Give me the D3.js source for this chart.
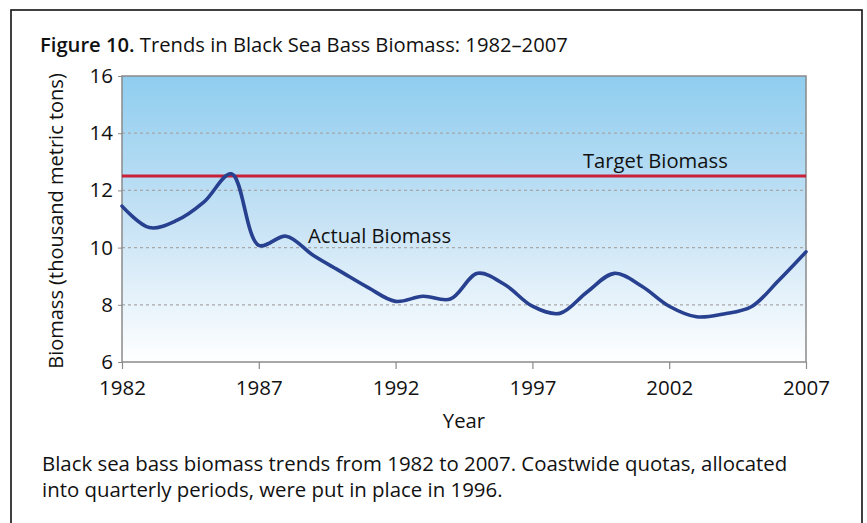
<!DOCTYPE html>
<html>
<head>
<meta charset="utf-8">
<script src="https://cdnjs.cloudflare.com/ajax/libs/d3/7.8.5/d3.min.js"></script>
<style>
  body { margin: 0; background: #fff; }
  text { font-family: "Open Sans", Lato, sans-serif; fill: #111; }
</style>
</head>
<body>
<div id="chart"></div>
<script>
// values
const years = [1982, 1983, 1984, 1985, 1986, 1987, 1988, 1989, 1990, 1991, 1992, 1993, 1994,
               1995, 1996, 1997, 1998, 1999, 2000, 2001, 2002, 2003, 2004, 2005, 2006, 2007];
const biomass = [11.45, 10.7, 10.95, 11.6, 12.58, 10.08, 10.4, 9.72, 9.16, 8.6, 8.12, 8.3, 8.2,
                 9.1, 8.7, 7.95, 7.7, 8.45, 9.1, 8.65, 7.95, 7.58, 7.68, 7.93, 8.85, 9.85];
const targetBiomass = 12.5;
const xTicks = [1982, 1987, 1992, 1997, 2002, 2007];
const yTicks = [6, 8, 10, 12, 14, 16];

const W = 867, H = 523;
const margin = {top: 76, right: 61, bottom: 161, left: 122};
const width = W - margin.left - margin.right;
const height = H - margin.top - margin.bottom;

const svg = d3.select("#chart").append("svg")
    .attr("width", W)
    .attr("height", H);

// outer frame
svg.append("rect")
    .attr("x", 11).attr("y", 10)
    .attr("width", 851).attr("height", 530)
    .attr("fill", "none")
    .attr("stroke", "#111")
    .attr("stroke-width", 1.6);

const title = svg.append("text")
    .attr("x", 40).attr("y", 52)
    .style("font-size", "20.2px");
title.append("tspan").style("font-weight", "600").text("Figure 10.");
title.append("tspan").text(" Trends in Black Sea Bass Biomass: 1982\u20132007");

const defs = svg.append("defs");
const grad = defs.append("linearGradient")
    .attr("id", "bg").attr("x1", 0).attr("y1", 0).attr("x2", 0).attr("y2", 1);
grad.append("stop").attr("offset", "0%").attr("stop-color", "#8fcdef");
grad.append("stop").attr("offset", "50%").attr("stop-color", "#c6e2f5");
grad.append("stop").attr("offset", "100%").attr("stop-color", "#ffffff");

const chart = svg.append("g")
    .attr("transform", "translate(" + margin.left + "," + margin.top + ")");

const x = d3.scaleLinear().domain([1982, 2007]).range([0, width]);
const y = d3.scaleLinear().domain([6, 16]).range([height, 0]);

chart.append("rect")
    .attr("width", width).attr("height", height)
    .attr("fill", "url(#bg)");

// dashed gridlines
chart.selectAll(".grid")
    .data(yTicks.filter(d => d > 6 && d < 16))
  .enter().append("line")
    .attr("class", "grid")
    .attr("x1", 0).attr("x2", width)
    .attr("y1", d => y(d)).attr("y2", d => y(d))
    .attr("stroke", "#a8a8a8")
    .attr("stroke-width", 1.3)
    .attr("stroke-dasharray", "3,3");

chart.append("rect")
    .attr("width", width).attr("height", height)
    .attr("fill", "none")
    .attr("stroke", "#8a8a8a")
    .attr("stroke-width", 1.5);

const xAxis = chart.append("g")
    .attr("transform", "translate(0," + height + ")")
    .call(d3.axisBottom(x).tickValues(xTicks).tickFormat(d3.format("d")).tickSize(7).tickSizeOuter(0).tickPadding(11));
xAxis.select(".domain").remove();
xAxis.selectAll("line").attr("stroke", "#8a8a8a").attr("stroke-width", 1.2);
xAxis.selectAll("text").style("font-size", "20.5px").attr("fill", "#111");

const yAxis = chart.append("g")
    .call(d3.axisLeft(y).tickValues(yTicks).tickSize(4).tickSizeOuter(0).tickPadding(5));
yAxis.select(".domain").remove();
yAxis.selectAll("line").attr("stroke", "#8a8a8a");
yAxis.selectAll("text").style("font-size", "20.5px").attr("fill", "#111");

svg.append("text")
    .attr("transform", "translate(63," + (margin.top + height / 2 + 2) + ") rotate(-90)")
    .attr("text-anchor", "middle")
    .style("font-size", "20px")
    .text("Biomass (thousand metric tons)");

svg.append("text")
    .attr("x", margin.left + width / 2).attr("y", 428)
    .attr("text-anchor", "middle")
    .style("font-size", "20.3px")
    .text("Year");

// target line
chart.append("line")
    .attr("x1", 0).attr("x2", width)
    .attr("y1", y(targetBiomass)).attr("y2", y(targetBiomass))
    .attr("stroke", "#c9203a")
    .attr("stroke-width", 3);

const line = d3.line()
    .x((d, i) => x(years[i]))
    .y(d => y(d))
    .curve(d3.curveCatmullRom.alpha(0.5));

chart.append("path")
    .datum(biomass)
    .attr("fill", "none")
    .attr("stroke", "#27408f")
    .attr("stroke-width", 3.6)
    .attr("stroke-linejoin", "round")
    .attr("stroke-linecap", "round")
    .attr("d", line);

chart.append("text")
    .attr("x", 583 - margin.left).attr("y", y(targetBiomass) - 8)
    .style("font-size", "20.2px")
    .text("Target Biomass");

chart.append("text")
    .attr("x", 308 - margin.left).attr("y", 243 - margin.top)
    .style("font-size", "20.2px")
    .text("Actual Biomass");

const caption = svg.append("text").style("font-size", "20.4px");
caption.append("tspan").attr("x", 42).attr("y", 471)
    .text("Black sea bass biomass trends from 1982 to 2007. Coastwide quotas, allocated");
caption.append("tspan").attr("x", 42).attr("y", 497)
    .text("into quarterly periods, were put in place in 1996.");
</script>
</body>
</html>
